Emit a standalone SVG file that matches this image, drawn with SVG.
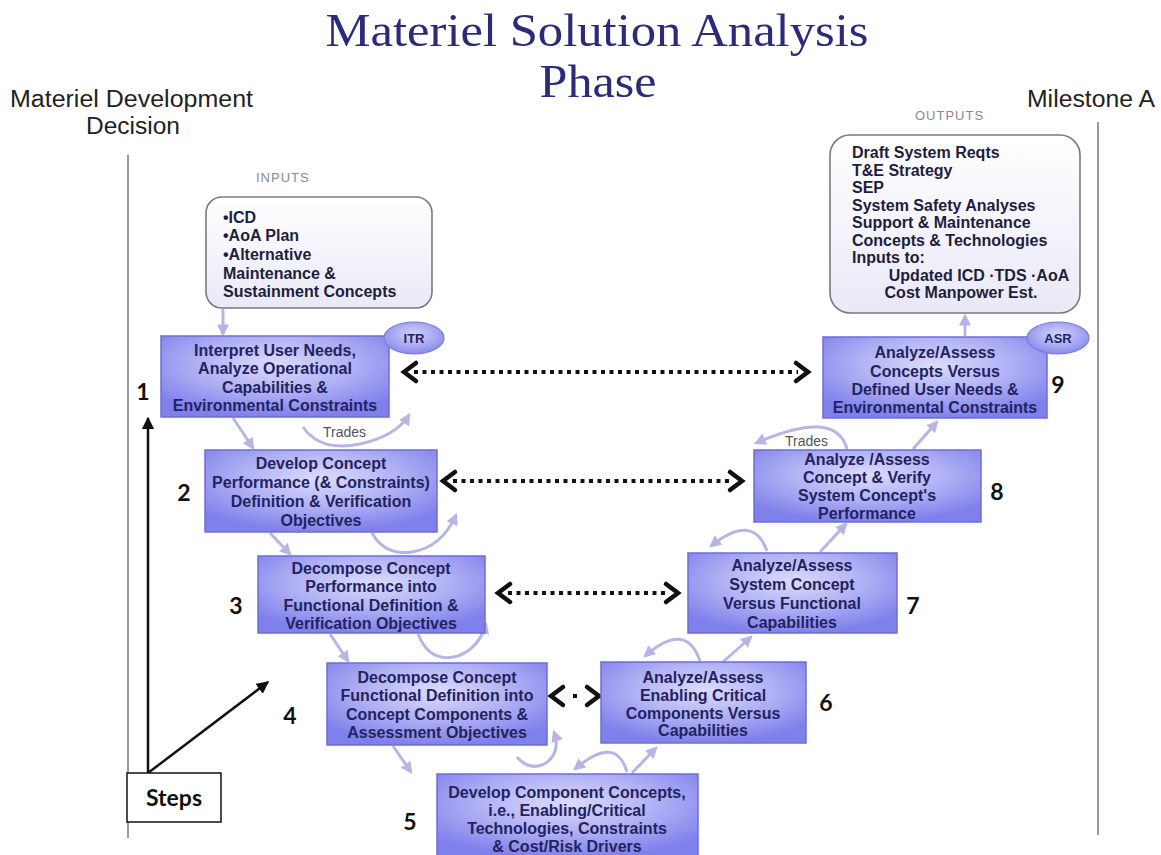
<svg xmlns="http://www.w3.org/2000/svg" width="1161" height="855" viewBox="0 0 1161 855">
  <style>
    .title { font-family: "Liberation Serif", "Times New Roman", serif; fill: #2b2b7a; }
    .side { font-family: "Liberation Sans", Arial, sans-serif; font-size: 23px; fill: #222; }
    .hdr { font-family: "Liberation Sans", Arial, sans-serif; font-size: 13px; fill: #8a8a8a; letter-spacing: 1px; }
    .box { fill: url(#boxGrad); stroke: #6e6ed6; stroke-width: 1.5; }
    .note { fill: url(#noteGrad); stroke: #7a7a7a; stroke-width: 1.6; }
    .bt { font-family: "Liberation Sans", Arial, sans-serif; font-size: 16px; font-weight: bold; fill: #23235f; text-anchor: middle; }
    .nt { font-family: "Liberation Sans", Arial, sans-serif; font-size: 16px; font-weight: bold; fill: #1e1e3c; }
    .num { font-family: Lato, "Open Sans", sans-serif; font-size: 23px; font-weight: bold; fill: #111; text-anchor: middle; }
    .oval { fill: url(#ovalGrad); stroke: #7a7ae0; stroke-width: 1.2; }
    .ot { font-family: "Liberation Sans", Arial, sans-serif; font-size: 13px; font-weight: bold; fill: #23235f; text-anchor: middle; }
    .flow { fill: none; stroke: #b6b6e6; stroke-width: 3; marker-end: url(#lav); }
    .dots { fill: none; stroke: #111; stroke-width: 4; stroke-dasharray: 4 4.5; }
    .head { fill: none; stroke: #111; stroke-width: 4.5; stroke-linejoin: miter; stroke-linecap: round; }
    .trades { font-family: "Liberation Sans", Arial, sans-serif; font-size: 14px; fill: #555; }
    .blk { fill: none; stroke: #111; stroke-width: 2.5; marker-end: url(#blk); }
  </style>
  <defs>
    <radialGradient id="boxGrad" cx="50%" cy="35%" r="65%">
      <stop offset="0" stop-color="#dcdcfc"/>
      <stop offset="0.55" stop-color="#aeaef4"/>
      <stop offset="1" stop-color="#8080ec"/>
    </radialGradient>
    <radialGradient id="ovalGrad" cx="50%" cy="40%" r="60%">
      <stop offset="0" stop-color="#d6d6fb"/>
      <stop offset="1" stop-color="#8a8aee"/>
    </radialGradient>
    <linearGradient id="noteGrad" x1="0" y1="0" x2="0" y2="1">
      <stop offset="0" stop-color="#ffffff"/>
      <stop offset="1" stop-color="#e9e9f7"/>
    </linearGradient>
    <marker id="lav" viewBox="0 0 10 10" refX="8" refY="5" markerWidth="4" markerHeight="4" orient="auto">
      <path d="M0,0 L10,5 L0,10 z" fill="#b6b6e6"/>
    </marker>
    <marker id="blk" viewBox="0 0 10 10" refX="9" refY="5" markerWidth="5" markerHeight="5" orient="auto">
      <path d="M0,0 L10,5 L0,10 z" fill="#111"/>
    </marker>
  </defs>

  <rect width="1161" height="855" fill="#ffffff"/>

  <!-- heading -->
  <g id="title">
    <text class="title" x="597" y="46" font-size="46" text-anchor="middle" textLength="543" lengthAdjust="spacingAndGlyphs">Materiel Solution Analysis</text>
    <text class="title" x="598" y="97" font-size="46" text-anchor="middle" textLength="117" lengthAdjust="spacingAndGlyphs">Phase</text>
  </g>

  <!-- decision points and their time lines -->
  <g id="mdd">
    <text class="side" x="10" y="107" textLength="243" lengthAdjust="spacingAndGlyphs">Materiel Development</text>
    <text class="side" x="86" y="134" textLength="94" lengthAdjust="spacingAndGlyphs">Decision</text>
    <line x1="128" y1="155" x2="128" y2="838" stroke="#9a9a9a" stroke-width="2"/>
  </g>
  <g id="milestone-a">
    <text class="side" x="1027" y="107" textLength="128" lengthAdjust="spacingAndGlyphs">Milestone A</text>
    <line x1="1098" y1="122" x2="1098" y2="835" stroke="#9a9a9a" stroke-width="2"/>
  </g>

  <!-- inputs / outputs -->
  <g id="inputs">
    <text class="hdr" x="256" y="182">INPUTS</text>
    <rect class="note" x="206" y="197" width="226" height="111" rx="16"/>
    <text class="nt" x="223" y="223">•ICD</text>
    <text class="nt" x="223" y="241">•AoA Plan</text>
    <text class="nt" x="223" y="260">•Alternative</text>
    <text class="nt" x="223" y="279">Maintenance &amp;</text>
    <text class="nt" x="223" y="297">Sustainment Concepts</text>
  </g>
  <g id="outputs">
    <text class="hdr" x="915" y="120">OUTPUTS</text>
    <rect class="note" x="830" y="135" width="250" height="178" rx="20"/>
    <text class="nt" x="852" y="158">Draft System Reqts</text>
    <text class="nt" x="852" y="176">T&amp;E Strategy</text>
    <text class="nt" x="852" y="193">SEP</text>
    <text class="nt" x="852" y="211">System Safety Analyses</text>
    <text class="nt" x="852" y="228">Support &amp; Maintenance</text>
    <text class="nt" x="852" y="246">Concepts &amp; Technologies</text>
    <text class="nt" x="852" y="263">Inputs to:</text>
    <text class="nt" x="979" y="281" text-anchor="middle">Updated ICD ·TDS ·AoA</text>
    <text class="nt" x="961" y="298" text-anchor="middle">Cost Manpower Est.</text>
  </g>

  <!-- process connectors -->
  <g id="connectors">
    <!-- descending side -->
    <path class="flow" d="M223,309 L223,334"/>
    <path class="flow" d="M233,418 L253,448"/>
    <path class="flow" d="M303,427 Q320,452 360,444 Q396,436 409,415"/>
    <path class="flow" d="M270,533 L290,554"/>
    <path class="flow" d="M372,533 Q385,556 412,552 Q442,547 456,515"/>
    <path class="flow" d="M330,634 L348,661"/>
    <path class="flow" d="M418,634 Q430,664 458,656 Q479,648 486,624"/>
    <path class="flow" d="M393,746 L411,772"/>
    <path class="flow" d="M517,757 Q530,772 546,763 Q561,752 554,732"/>
    <!-- ascending side -->
    <path class="flow" d="M632,773 L656,748"/>
    <path class="flow" d="M627,772 Q616,734 575,769"/>
    <path class="flow" d="M723,662 L751,637"/>
    <path class="flow" d="M700,661 Q686,620 645,656"/>
    <path class="flow" d="M820,552 L846,524"/>
    <path class="flow" d="M767,551 Q753,512 711,546"/>
    <path class="flow" d="M913,449 L937,422"/>
    <path class="flow" d="M847,449 Q836,408 756,443"/>
    <path class="flow" d="M965,336 L965,316"/>
    <text class="trades" x="323" y="437">Trades</text>
    <text class="trades" x="785" y="446">Trades</text>

    <!-- correspondence between left and right steps -->
    <line class="dots" x1="414" y1="372" x2="798" y2="372"/>
    <path class="head" d="M416,363 L404,372 L416,381"/>
    <path class="head" d="M796,363 L808,372 L796,381"/>
    <line class="dots" x1="453" y1="481" x2="732" y2="481"/>
    <path class="head" d="M455,472 L443,481 L455,490"/>
    <path class="head" d="M730,472 L742,481 L730,490"/>
    <line class="dots" x1="508" y1="593" x2="668" y2="593"/>
    <path class="head" d="M510,584 L498,593 L510,602"/>
    <path class="head" d="M666,584 L678,593 L666,602"/>
    <line class="dots" x1="573" y1="696" x2="577" y2="696"/>
    <path class="head" d="M563,687 L551,696 L563,705"/>
    <path class="head" d="M587,687 L599,696 L587,705"/>

    <!-- Steps pointers -->
    <path class="blk" d="M148,773 L148,418"/>
    <path class="blk" d="M148,773 L268,682"/>
  </g>

  <!-- steps, left side -->
  <g id="step1">
    <rect class="box" x="161" y="336" width="228" height="81"/>
    <text class="bt" x="275" y="356">Interpret User Needs,</text>
    <text class="bt" x="275" y="374">Analyze Operational</text>
    <text class="bt" x="275" y="393">Capabilities &amp;</text>
    <text class="bt" x="275" y="411">Environmental Constraints</text>
    <ellipse class="oval" cx="414" cy="338" rx="30" ry="16"/>
    <text class="ot" x="414" y="343">ITR</text>
    <text class="num" x="143" y="400">1</text>
  </g>
  <g id="step2">
    <rect class="box" x="205" y="450" width="232" height="82"/>
    <text class="bt" x="321" y="469">Develop Concept</text>
    <text class="bt" x="321" y="488">Performance (&amp; Constraints)</text>
    <text class="bt" x="321" y="507">Definition &amp; Verification</text>
    <text class="bt" x="321" y="526">Objectives</text>
    <text class="num" x="184" y="501">2</text>
  </g>
  <g id="step3">
    <rect class="box" x="258" y="556" width="227" height="77"/>
    <text class="bt" x="371" y="574">Decompose Concept</text>
    <text class="bt" x="371" y="592">Performance into</text>
    <text class="bt" x="371" y="611">Functional Definition &amp;</text>
    <text class="bt" x="371" y="629">Verification Objectives</text>
    <text class="num" x="236" y="614">3</text>
  </g>
  <g id="step4">
    <rect class="box" x="327" y="663" width="220" height="82"/>
    <text class="bt" x="437" y="683">Decompose Concept</text>
    <text class="bt" x="437" y="701">Functional Definition into</text>
    <text class="bt" x="437" y="720">Concept Components &amp;</text>
    <text class="bt" x="437" y="738">Assessment Objectives</text>
    <text class="num" x="290" y="724">4</text>
  </g>
  <g id="step5">
    <rect class="box" x="437" y="774" width="261" height="84"/>
    <text class="bt" x="567" y="798">Develop Component Concepts,</text>
    <text class="bt" x="567" y="816">i.e., Enabling/Critical</text>
    <text class="bt" x="567" y="834">Technologies, Constraints</text>
    <text class="bt" x="567" y="852">&amp; Cost/Risk Drivers</text>
    <text class="num" x="410" y="830">5</text>
  </g>

  <!-- steps, right side -->
  <g id="step6">
    <rect class="box" x="601" y="662" width="205" height="81"/>
    <text class="bt" x="703" y="683">Analyze/Assess</text>
    <text class="bt" x="703" y="701">Enabling Critical</text>
    <text class="bt" x="703" y="719">Components Versus</text>
    <text class="bt" x="703" y="736">Capabilities</text>
    <text class="num" x="826" y="711">6</text>
  </g>
  <g id="step7">
    <rect class="box" x="688" y="553" width="209" height="80"/>
    <text class="bt" x="792" y="571">Analyze/Assess</text>
    <text class="bt" x="792" y="590">System Concept</text>
    <text class="bt" x="792" y="609">Versus Functional</text>
    <text class="bt" x="792" y="628">Capabilities</text>
    <text class="num" x="913" y="614">7</text>
  </g>
  <g id="step8">
    <rect class="box" x="754" y="450" width="227" height="72"/>
    <text class="bt" x="867" y="465">Analyze /Assess</text>
    <text class="bt" x="867" y="483">Concept &amp; Verify</text>
    <text class="bt" x="867" y="501">System Concept's</text>
    <text class="bt" x="867" y="519">Performance</text>
    <text class="num" x="997" y="500">8</text>
  </g>
  <g id="step9">
    <rect class="box" x="823" y="337" width="224" height="81"/>
    <text class="bt" x="935" y="358">Analyze/Assess</text>
    <text class="bt" x="935" y="377">Concepts Versus</text>
    <text class="bt" x="935" y="395">Defined User Needs &amp;</text>
    <text class="bt" x="935" y="413">Environmental Constraints</text>
    <ellipse class="oval" cx="1058" cy="338" rx="31" ry="16"/>
    <text class="ot" x="1058" y="343">ASR</text>
    <text class="num" x="1058" y="393">9</text>
  </g>

  <g id="steps-label">
    <rect x="127" y="773" width="94" height="49" fill="#ffffff" stroke="#111" stroke-width="1.5"/>
    <text x="174" y="806" font-family="Lato, 'Open Sans', sans-serif" font-size="23" font-weight="bold" fill="#111" text-anchor="middle">Steps</text>
  </g>
</svg>
